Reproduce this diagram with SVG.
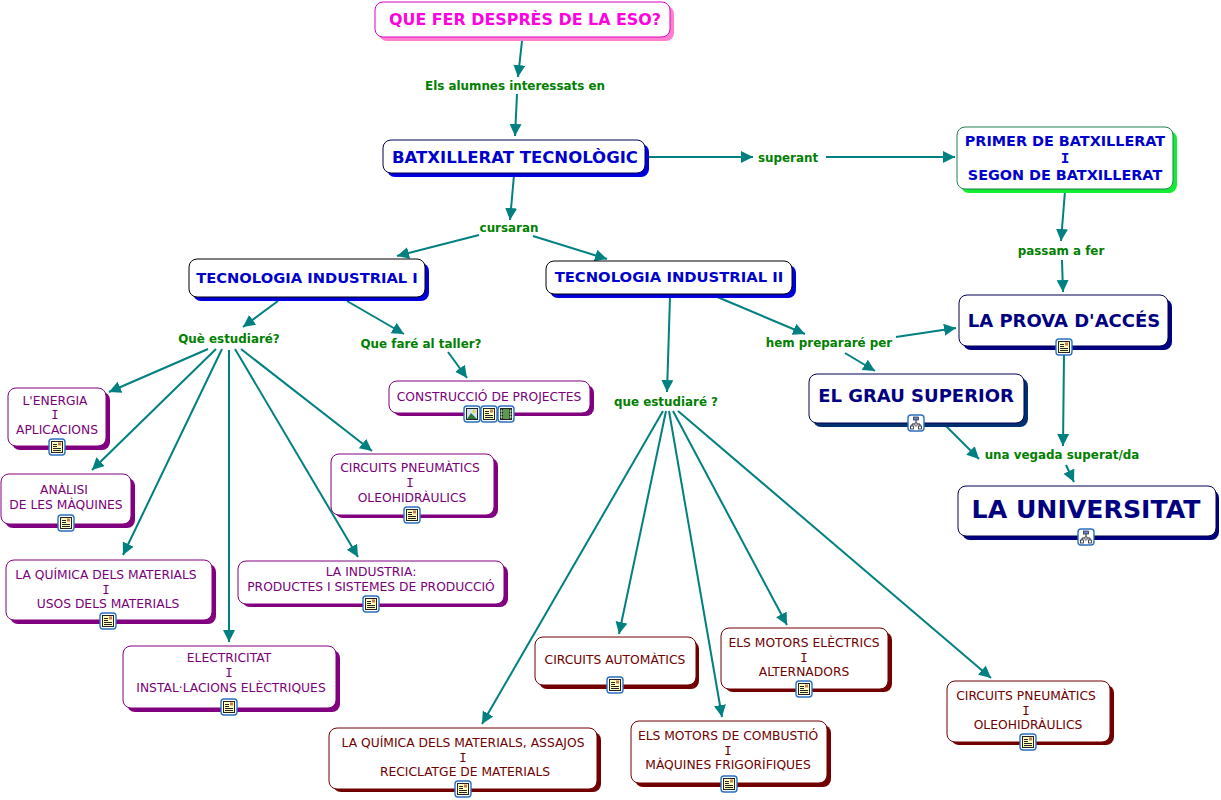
<svg xmlns="http://www.w3.org/2000/svg" width="1221" height="800" viewBox="0 0 1221 800">
<style>
text{font-family:"DejaVu Sans","Liberation Sans",sans-serif;text-anchor:middle}
.b{fill:#fff;stroke-width:1}
.l{fill:#008000;font-weight:bold;font-size:11.9px}
.c{fill:none;stroke:#008080;stroke-width:2;marker-end:url(#a)}
.bt{font-weight:bold;fill:#0000cc}
.nt{font-weight:bold;fill:#000080}
.pt{fill:#7a007a;font-size:12.3px}
.rt{fill:#700000;font-size:12.3px}
.i{font-family:"DejaVu Sans Mono","Liberation Mono",monospace}
.pu{fill:#800080}.re{fill:#730000}.bl{fill:#0000dd}.na{fill:#000080}
</style>
<defs>
<marker id="a" markerUnits="userSpaceOnUse" markerWidth="14" markerHeight="14" refX="12" refY="6" orient="auto"><path d="M0 0L12 6L0 12Z" fill="#008080"/></marker>
<g id="f"><rect x="-8" y="-8" width="16" height="16" rx="3" fill="#fff" stroke="#2a6fc0" stroke-width="1.4"/></g>
<g id="doc"><use href="#f"/><rect x="-5.5" y="-5.5" width="11" height="11" fill="#ffffc0" stroke="#222" stroke-width="1"/><path d="M-4-2.5H0M-4-.5H0M-4 1.5H4M-4 3.5H4" stroke="#222" stroke-width="1"/><rect x="1" y="-4.5" width="3" height="3" fill="#c87850"/></g>
<g id="org"><use href="#f"/><path d="M0-3V1M-4 4V1H4V4" fill="none" stroke="#223" stroke-width="1"/><rect x="-2.5" y="-6" width="5" height="3" fill="#6688cc" stroke="#223" stroke-width=".7"/><rect x="-5.5" y="3" width="3" height="3" fill="#fff" stroke="#223" stroke-width=".8"/><rect x="2.5" y="3" width="3" height="3" fill="#fff" stroke="#223" stroke-width=".8"/><rect x="-1" y="0" width="2" height="3" fill="#fff" stroke="#223" stroke-width=".6"/></g>
<g id="img"><use href="#f"/><rect x="-5.5" y="-5.5" width="11" height="11" fill="#cfe4f5" stroke="#222" stroke-width="1"/><circle cx="2" cy="-2.5" r="1.7" fill="#f0d040"/><path d="M-5 5L-1-1L5 5Z" fill="#2f7a3a"/></g>
<g id="vid"><use href="#f"/><rect x="-5.5" y="-5.5" width="11" height="11" fill="#5a9a50" stroke="#222" stroke-width="1"/><path d="M-3.5-5.5V5.5M3.5-5.5V5.5" stroke="#222" stroke-width="1"/><path d="M-5.5-3H-3.5M-5.5 0H-3.5M-5.5 3H-3.5M3.5-3H5.5M3.5 0H5.5M3.5 3H5.5" stroke="#fff" stroke-width="1"/></g>
</defs>
<g id="connectors">
<path class="c" d="M522 41L518 77"/><path class="c" d="M517 94L515 136"/>
<path class="c" d="M514 175L510 220"/><path class="c" d="M479 235L397 256"/><path class="c" d="M533 236L607 259"/>
<path class="c" d="M649 157L753 157"/><path class="c" d="M826 157L955 157"/>
<path class="c" d="M1065 191L1061 241"/><path class="c" d="M1062 260L1063 292"/>
<path class="c" d="M278 301L243 327"/><path class="c" d="M347 301L404 334"/>
<path class="c" d="M208 349L109 392"/><path class="c" d="M216 349L92 470"/><path class="c" d="M222 349L123 555"/><path class="c" d="M229 350L229 642"/><path class="c" d="M235 349L358 557"/><path class="c" d="M241 349L372 451"/>
<path class="c" d="M448 352L467 378"/>
<path class="c" d="M670 297L667 392"/><path class="c" d="M715 296L805 334"/><path class="c" d="M896 337L956 328"/><path class="c" d="M845 353L875 371"/>
<path class="c" d="M663 411L482 724"/><path class="c" d="M666 411L619 634"/><path class="c" d="M669 411L722 717"/><path class="c" d="M673 411L787 625"/><path class="c" d="M678 411L991 678"/>
<path class="c" d="M1064 355L1063 446"/><path class="c" d="M946 426L979 459"/><path class="c" d="M1066 465L1074 482"/>
</g>
<g id="labels">
<text class="l" x="515" y="90">Els alumnes interessats en</text>
<text class="l" x="509" y="232">cursaran</text>
<text class="l" x="788" y="162">superant</text>
<text class="l" x="1061" y="255">passam a fer</text>
<text class="l" x="229" y="343">Què estudiaré?</text>
<text class="l" x="421" y="348">Que faré al taller?</text>
<text class="l" x="666" y="406">que estudiaré ?</text>
<text class="l" x="829" y="347">hem prepararé per</text>
<text class="l" x="1062" y="459">una vegada superat/da</text>
</g>
<g id="n1"><rect x="379" y="6" width="295" height="35" rx="8" fill="#ff80d0"/><rect class="b" x="375" y="2" width="295" height="35" rx="8" stroke="#e000c0"/><text x="525" y="25" font-size="15.9" font-weight="bold" fill="#ff00e0">QUE FER DESPRÈS DE LA ESO?</text></g>
<g id="n2"><rect class="bl" x="387" y="144" width="262" height="33" rx="8"/><rect class="b" x="383" y="140" width="262" height="33" rx="8" stroke="#000050"/><text class="bt" x="515" y="163" font-size="16.5">BATXILLERAT TECNOLÒGIC</text></g>
<g id="n3"><rect x="961" y="131" width="216" height="62" rx="8" fill="#11ee33"/><rect class="b" x="957" y="127" width="216" height="62" rx="8" stroke="#208050"/><g class="bt" font-size="14.4"><text x="1065" y="146">PRIMER DE BATXILLERAT</text><text class="i" x="1065" y="163">I</text><text x="1065" y="180">SEGON DE BATXILLERAT</text></g></g>
<g id="n4"><rect class="bl" x="193" y="263" width="236" height="38" rx="8"/><rect class="b" x="189" y="259" width="236" height="38" rx="8" stroke="#000"/><text class="bt" x="307" y="283" font-size="14.7">TECNOLOGIA INDUSTRIAL I</text></g>
<g id="n5"><rect class="bl" x="550" y="265" width="246" height="33" rx="8"/><rect class="b" x="546" y="261" width="246" height="33" rx="8" stroke="#000"/><text class="bt" x="669" y="282" font-size="14.8">TECNOLOGIA INDUSTRIAL II</text></g>
<g id="n6"><rect class="na" x="963" y="299" width="209" height="51" rx="8"/><rect class="b" x="959" y="295" width="209" height="51" rx="8" stroke="#000050"/><text class="nt" x="1064" y="327" font-size="18">LA PROVA D'ACCÉS</text><use href="#doc" x="1064" y="347"/></g>
<g id="n7"><rect x="813" y="378" width="215" height="49" rx="8" fill="#003070"/><rect class="b" x="809" y="374" width="215" height="49" rx="8" stroke="#000050"/><text class="nt" x="916" y="402" font-size="18">EL GRAU SUPERIOR</text><use href="#org" x="916" y="423"/></g>
<g id="n8"><rect class="na" x="962" y="490" width="257" height="50" rx="8"/><rect class="b" x="958" y="486" width="258" height="50" rx="8" stroke="#000050"/><text class="nt" x="1086" y="518" font-size="25.2">LA UNIVERSITAT</text><use href="#org" x="1086" y="537"/></g>
<g id="n9"><rect class="pu" x="12" y="392" width="98" height="58" rx="8"/><rect class="b" x="8" y="388" width="98" height="58" rx="8" stroke="#800080"/><g class="pt"><text x="55" y="405">L'ENERGIA</text><text class="i" x="55" y="419">I</text><text x="57" y="434">APLICACIONS</text></g><use href="#doc" x="57" y="447"/></g>
<g id="n10"><rect class="pu" x="5" y="478" width="130" height="50" rx="8"/><rect class="b" x="1" y="474" width="130" height="50" rx="8" stroke="#800080"/><g class="pt"><text x="64" y="494">ANÀLISI</text><text x="66" y="509">DE LES MÀQUINES</text></g><use href="#doc" x="66" y="523"/></g>
<g id="n11"><rect class="pu" x="10" y="564" width="206" height="60" rx="8"/><rect class="b" x="6" y="560" width="206" height="60" rx="8" stroke="#800080"/><g class="pt"><text x="106" y="579">LA QUÍMICA DELS MATERIALS</text><text class="i" x="106" y="594">I</text><text x="108" y="608">USOS DELS MATERIALS</text></g><use href="#doc" x="108" y="621"/></g>
<g id="n12"><rect class="pu" x="127" y="650" width="213" height="62" rx="8"/><rect class="b" x="123" y="646" width="213" height="62" rx="8" stroke="#800080"/><g class="pt"><text x="229" y="662">ELECTRICITAT</text><text class="i" x="229" y="677">I</text><text x="231" y="692">INSTAL·LACIONS ELÈCTRIQUES</text></g><use href="#doc" x="229" y="707"/></g>
<g id="n13"><rect class="pu" x="242" y="565" width="266" height="42" rx="8"/><rect class="b" x="238" y="561" width="266" height="43" rx="8" stroke="#800080"/><g class="pt"><text x="371" y="576">LA INDUSTRIA:</text><text x="371" y="591">PRODUCTES I SISTEMES DE PRODUCCIÓ</text></g><use href="#doc" x="371" y="604"/></g>
<g id="n14"><rect class="pu" x="335" y="458" width="163" height="60" rx="8"/><rect class="b" x="331" y="454" width="163" height="61" rx="8" stroke="#800080"/><g class="pt"><text x="410" y="472">CIRCUITS PNEUMÀTICS</text><text class="i" x="410" y="487">I</text><text x="412" y="502">OLEOHIDRÀULICS</text></g><use href="#doc" x="412" y="515"/></g>
<g id="n15"><rect class="pu" x="393" y="385" width="201" height="31" rx="8"/><rect class="b" x="389" y="381" width="201" height="32" rx="8" stroke="#800080"/><text class="pt" x="489" y="401">CONSTRUCCIÓ DE PROJECTES</text><use href="#img" x="472" y="414"/><use href="#doc" x="489" y="414"/><use href="#vid" x="506" y="414"/></g>
<g id="n16"><rect class="re" x="539" y="641" width="160" height="48" rx="8"/><rect class="b" x="535" y="637" width="161" height="48" rx="8" stroke="#700000"/><text class="rt" x="615" y="664">CIRCUITS AUTOMÀTICS</text><use href="#doc" x="615" y="685"/></g>
<g id="n17"><rect class="re" x="725" y="632" width="167" height="60" rx="8"/><rect class="b" x="721" y="628" width="167" height="61" rx="8" stroke="#700000"/><g class="rt"><text x="804" y="647">ELS MOTORS ELÈCTRICS</text><text class="i" x="804" y="662">I</text><text x="804" y="676">ALTERNADORS</text></g><use href="#doc" x="804" y="689"/></g>
<g id="n18"><rect class="re" x="951" y="685" width="163" height="60" rx="8"/><rect class="b" x="947" y="681" width="163" height="61" rx="8" stroke="#700000"/><g class="rt"><text x="1026" y="700">CIRCUITS PNEUMÀTICS</text><text class="i" x="1026" y="715">I</text><text x="1028" y="729">OLEOHIDRÀULICS</text></g><use href="#doc" x="1028" y="742"/></g>
<g id="n19"><rect class="re" x="635" y="725" width="196" height="62" rx="8"/><rect class="b" x="631" y="721" width="196" height="62" rx="8" stroke="#700000"/><g class="rt"><text x="728" y="740">ELS MOTORS DE COMBUSTIÓ</text><text class="i" x="728" y="755">I</text><text x="728" y="769">MÀQUINES FRIGORÍFIQUES</text></g><use href="#doc" x="729" y="784"/></g>
<g id="n20"><rect class="re" x="333" y="732" width="268" height="60" rx="8"/><rect class="b" x="329" y="728" width="268" height="61" rx="8" stroke="#700000"/><g class="rt"><text x="463" y="747">LA QUÍMICA DELS MATERIALS, ASSAJOS</text><text class="i" x="463" y="762">I</text><text x="465" y="776">RECICLATGE DE MATERIALS</text></g><use href="#doc" x="463" y="789"/></g>
</svg>
